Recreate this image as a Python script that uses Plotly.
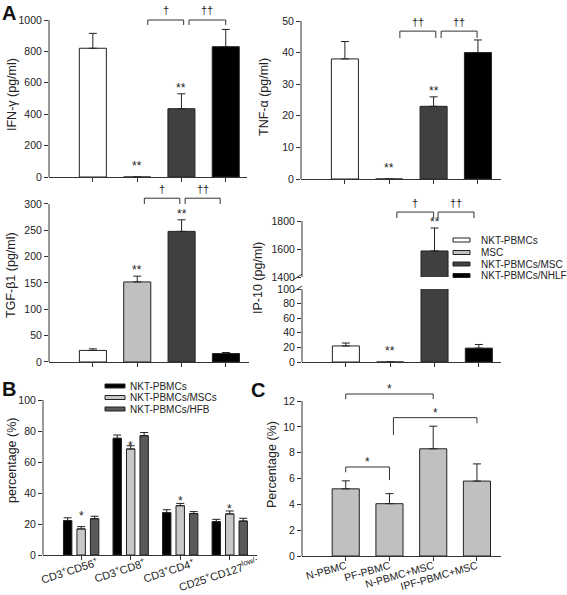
import plotly.graph_objects as go

W, H = 567, 595
FONT = "Liberation Sans, Arial, sans-serif"
INK = "#222222"
AX = "#333333"

# ---------------- data ----------------
a_groups = ["NKT-PBMCs", "MSC", "NKT-PBMCs/MSC", "NKT-PBMCs/NHLF"]
a_colors = ["#ffffff", "#c0c0c0", "#404040", "#000000"]

ifn_mean = [820, 0, 435, 830]
ifn_err = [95, 0, 95, 110]
ifn_marks = ["", "**", "**", ""]
ifn_brackets = [(1.24, 2.05, 1000, 968, 968, "†"), (2.17, 3.0, 1000, 968, 968, "††")]

tnf_mean = [38, 0, 23, 40]
tnf_err = [5.5, 0, 3, 4]
tnf_marks = ["", "**", "**", ""]
tnf_brackets = [(1.24, 2.05, 46.8, 44.6, 44.6, "††"), (2.17, 2.98, 46.8, 44.6, 44.6, "††")]

tgf_mean = [22, 152, 248, 16]
tgf_err = [3, 11, 22, 2]
tgf_marks = ["", "**", "**", ""]
tgf_brackets = [(1.16, 1.96, 311, 300, 300, "†"), (2.08, 2.87, 311, 300, 300, "††")]

ip10_mean = [22, 0, 1586, 19]
ip10_err = [4, 0, 164, 5]
ip10_marks = ["", "**", "**", ""]
ip10_brackets = [(1.15, 1.98, 1864, 1821, 1821, "†"), (2.08, 2.89, 1864, 1821, 1821, "††")]

b_groups = ["CD3<sup>+</sup>CD56<sup>+</sup>", "CD3<sup>+</sup>CD8<sup>+</sup>",
            "CD3<sup>+</sup>CD4<sup>+</sup>", "CD25<sup>+</sup>CD127<sup>low/-</sup>"]
b_series = ["NKT-PBMCs", "NKT-PBMCs/MSCs", "NKT-PBMCs/HFB"]
b_colors = ["#000000", "#c8c8c8", "#5a5a5a"]
b_nkt = [22.2, 75.3, 27.3, 21.5]
b_nkt_err = [1.8, 2.1, 1.9, 1.5]
b_msc = [16.8, 68.4, 31.8, 26.5]
b_msc_err = [1.5, 2.1, 1.5, 1.9]
b_hfb = [23.4, 77.0, 26.7, 21.9]
b_hfb_err = [1.6, 2.0, 1.3, 1.8]
b_marks = ["*", "*", "*", "*"]
b_mark_y = [27.1, 72.4, 36.8, 31.6]

c_groups = ["N-PBMC", "PF-PBMC", "N-PBMC+MSC", "IPF-PBMC+MSC"]
c_mean = [5.2, 4.05, 8.3, 5.8]
c_err = [0.62, 0.78, 1.75, 1.33]
c_brackets = [(0, 2, 12.54, 12.15, 12.15, "*"), (1.09, 3, 10.71, 9.37, 10.27, "*"),
              (0, 1, 6.89, 6.48, 5.88, "*")]

# ---------------- helpers ----------------
fig = go.Figure()
lay = {}
shapes = []
annos = []
TICKF = dict(size=10.5, color=INK, family=FONT)


def names(i):
    return ("x" if i == 1 else f"x{i}", "y" if i == 1 else f"y{i}")


def setup(i, xpx, ylo_px, yhi_px, lo, hi, top, xr, yticks, xticktext=None,
          show_x=True, tickangle=0):
    xa, ya = names(i)
    scale = (ylo_px - yhi_px) / (hi - lo)
    ytop_px = ylo_px - (top - lo) * scale
    xk = "xaxis" if i == 1 else f"xaxis{i}"
    yk = "yaxis" if i == 1 else f"yaxis{i}"
    xd = dict(domain=[xpx[0] / W, xpx[1] / W], range=xr, anchor=ya, automargin=False,
              showgrid=False, zeroline=False, showline=True, linecolor=AX,
              linewidth=1, ticks="outside", ticklen=4, tickcolor=AX,
              tickvals=[0, 1, 2, 3], fixedrange=True)
    if xticktext is None:
        xd["showticklabels"] = False
    else:
        xd["ticktext"] = xticktext
        xd["tickangle"] = tickangle
        xd["ticklabelstandoff"] = -5
        xd["tickfont"] = dict(size=10.5, color=INK, family=FONT)
    if not show_x:
        xd["visible"] = False
    lay[xk] = xd
    lay[yk] = dict(domain=[1 - ylo_px / H, 1 - ytop_px / H], range=[lo, top],
                   anchor=xa, automargin=False, showgrid=False, zeroline=False,
                   showline=False, ticks="outside", ticklen=4, tickcolor=AX,
                   tickvals=yticks, tickfont=TICKF, fixedrange=True)
    shapes.append(dict(type="line", xref=f"{xa} domain", x0=0, x1=0, yref=ya,
                       y0=lo, y1=hi, line=dict(color=AX, width=1)))
    return xa, ya


def bar(xa, ya, means, errs, colors, width=0.61, offset=None, name=None):
    fig.add_trace(go.Bar(
        x=list(range(len(means))), y=means, width=width, offset=offset,
        xaxis=xa, yaxis=ya, name=name, showlegend=False, hoverinfo="skip",
        marker=dict(color=colors, line=dict(color=INK, width=1)),
        error_y=dict(type="data", array=errs, arrayminus=[0] * len(errs),
                     symmetric=False, color=INK, thickness=1, width=4)))


def brackets(xa, ya, blist, fsize=11, yshift=1.5):
    for x0, x1, top, tl, tr, lab in blist:
        shapes.append(dict(type="path", xref=xa, yref=ya,
                           path=f"M {x0},{tl} L {x0},{top} L {x1},{top} L {x1},{tr}",
                           line=dict(color=AX, width=1)))
        annos.append(dict(x=(x0 + x1) / 2, y=top, xref=xa, yref=ya, text=lab,
                          showarrow=False, yanchor="bottom", yshift=yshift,
                          font=dict(size=fsize, color=INK, family=FONT)))


def star(xa, ya, x, y, lab, yshift):
    annos.append(dict(x=x, y=y, xref=xa, yref=ya, text=lab, showarrow=False,
                      yanchor="bottom", yshift=yshift,
                      font=dict(size=12, color=INK, family=FONT)))


def marks(xa, ya, means, errs, labs):
    for i, (m, e, lab) in enumerate(zip(means, errs, labs)):
        if lab:
            star(xa, ya, i, m + e, lab, 2 if m + e == 0 else -3)


# ---------------- Panel A ----------------
xa, ya = setup(1, (49, 247), 177, 20, 0, 1000, 1080, [-0.99, 3.48], [0, 200, 400, 600, 800, 1000])
bar(xa, ya, ifn_mean, ifn_err, a_colors)
marks(xa, ya, ifn_mean, ifn_err, ifn_marks)
brackets(xa, ya, ifn_brackets)

xa, ya = setup(2, (301, 501), 179, 21, 0, 50, 54, [-0.99, 3.52], [0, 10, 20, 30, 40, 50])
bar(xa, ya, tnf_mean, tnf_err, a_colors)
marks(xa, ya, tnf_mean, tnf_err, tnf_marks)
brackets(xa, ya, tnf_brackets)

xa, ya = setup(3, (49, 249), 362, 204, 0, 300, 335, [-0.99, 3.52], [0, 50, 100, 150, 200, 250, 300])
bar(xa, ya, tgf_mean, tgf_err, a_colors)
marks(xa, ya, tgf_mean, tgf_err, tgf_marks)
brackets(xa, ya, tgf_brackets)

# IP-10: broken axis (lower and upper segments)
xl, yl = setup(4, (302, 501), 362, 289, 0, 100, 100, [-0.99, 3.5], [0, 20, 40, 60, 80, 100])
bar(xl, yl, ip10_mean, ip10_err, a_colors)
xu, yu = setup(5, (302, 501), 277, 221, 1400, 1800, 1910, [-0.99, 3.5], [1400, 1600, 1800], show_x=False)
bar(xu, yu, ip10_mean, ip10_err, a_colors)
for i, (m, e, lab) in enumerate(zip(ip10_mean, ip10_err, ip10_marks)):
    if lab:
        tx, ty = (xl, yl) if m + e <= 100 else (xu, yu)
        star(tx, ty, i, m + e, lab, 2 if m + e == 0 else -3)
brackets(xu, yu, ip10_brackets)
# break marks
for axn, anchor in ((yl, 1), (yu, 0)):
    shapes.append(dict(type="line", xref=f"{xl} domain", xsizemode="pixel", xanchor=0,
                       x0=-9, x1=0, yref=f"{axn} domain", ysizemode="pixel", yanchor=anchor,
                       y0=-3, y1=3, line=dict(color=AX, width=1)))

# legend A
legA_y = [240, 252.5, 264, 275.5]
for lab, col, py in zip(a_groups, a_colors, legA_y):
    shapes.append(dict(type="rect", xref="paper", yref="paper", x0=453 / W, x1=470 / W,
                       y0=1 - (py + 2) / H, y1=1 - (py - 2) / H, fillcolor=col,
                       line=dict(color=INK, width=1)))
    annos.append(dict(x=479 / W, y=1 - py / H, xref="paper", yref="paper", text=lab,
                      showarrow=False, xanchor="left", yanchor="middle",
                      font=dict(size=10, color=INK, family=FONT)))

# ---------------- Panel B ----------------
xa, ya = setup(6, (43, 257), 555, 400, 0, 100, 100, [-0.77, 3.55], [0, 20, 40, 60, 80, 100])
b_vals = [b_nkt, b_msc, b_hfb]
b_errs = [b_nkt_err, b_msc_err, b_hfb_err]
b_offsets = [-0.357, -0.085, 0.187]
for s, v, e, c, o in zip(b_series, b_vals, b_errs, b_colors, b_offsets):
    bar(xa, ya, v, e, c, width=0.17, offset=o, name=s)
for i, (lab, yv) in enumerate(zip(b_marks, b_mark_y)):
    annos.append(dict(x=i, y=yv, xref=xa, yref=ya, text=lab, showarrow=False,
                      yanchor="middle", yshift=-3, font=dict(size=12, color=INK, family=FONT)))
# category labels (slanted)
for i, lab in enumerate(b_groups):
    annos.append(dict(x=i, y=0, xref=xa, yref=ya, text=lab, showarrow=False, textangle=-18,
                      xanchor="center", yanchor="top", xshift=-11, yshift=3,
                      font=dict(size=11, color=INK, family=FONT)))
legB_y = [386, 397.5, 409]
for lab, col, py in zip(b_series, b_colors, legB_y):
    shapes.append(dict(type="rect", xref="paper", yref="paper", x0=105 / W, x1=125 / W,
                       y0=1 - (py + 2) / H, y1=1 - (py - 2) / H, fillcolor=col,
                       line=dict(color=INK, width=1)))
    annos.append(dict(x=128 / W, y=1 - py / H, xref="paper", yref="paper", text=lab,
                      showarrow=False, xanchor="left", yanchor="middle",
                      font=dict(size=10, color=INK, family=FONT)))

# ---------------- Panel C ----------------
xa, ya = setup(7, (302, 501), 556, 401, 0, 12, 13.6, [-1.0, 3.55], [0, 2, 4, 6, 8, 10, 12],
               xticktext=c_groups, tickangle=-16)
bar(xa, ya, c_mean, c_err, "#c0c0c0", width=0.62)
brackets(xa, ya, c_brackets, fsize=12, yshift=-4)

# ---------------- titles / letters ----------------
ytitles = [("IFN-γ (pg/ml)", 12, 95), ("TNF-α (pg/ml)", 264, 97), ("TGF-β1 (pg/ml)", 11, 275),
           ("IP-10 (pg/ml)", 258, 278), ("percentage (%)", 12, 461), ("Percentage (%)", 272, 465)]
for t, px, py in ytitles:
    annos.append(dict(x=px / W, y=1 - py / H, xref="paper", yref="paper", text=t, textangle=-90,
                      showarrow=False, xanchor="center", yanchor="middle",
                      font=dict(size=12.5, color=INK, family=FONT)))
for t, px, py in [("A", 0, 0), ("B", 0, 376), ("C", 249, 377)]:
    annos.append(dict(x=px / W, y=1 - py / H, xref="paper", yref="paper", text=f"<b>{t}</b>",
                      showarrow=False, xanchor="left", yanchor="top",
                      font=dict(size=20, color="#111111", family=FONT)))

fig.update_layout(template="none", width=W, height=H, margin=dict(l=0, r=0, t=0, b=0, pad=0),
                  paper_bgcolor="white", plot_bgcolor="white", barmode="overlay",
                  showlegend=False, shapes=shapes, annotations=annos,
                  font=dict(family=FONT, color=INK), **lay)
fig.write_html("out.html", config={"displayModeBar": False, "staticPlot": True},
               post_script="document.body.style.margin='0';document.body.style.overflow='hidden';")
